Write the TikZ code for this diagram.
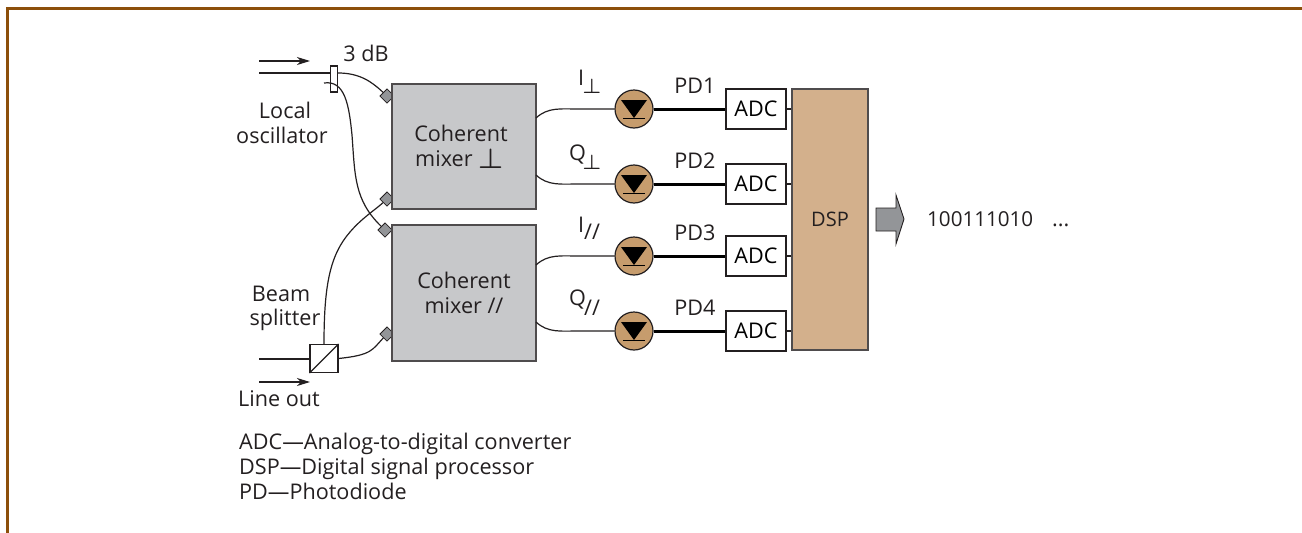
\documentclass[tikz,border=0pt]{standalone}
\usepackage{fontspec}
\setmainfont{Open Sans}
\usetikzlibrary{arrows.meta}
\definecolor{framebrown}{HTML}{8C4F0A}
\definecolor{mixergray}{HTML}{C7C8CA}
\definecolor{dsptan}{HTML}{D3B08C}
\definecolor{pdtan}{HTML}{C69C6D}
\definecolor{inkgray}{HTML}{231F20}
\definecolor{tipgray}{HTML}{939598}
\tikzset{
  wire/.style={draw=inkgray,line width=1.2pt},
  mixerbox/.style={draw=inkgray!80,fill=mixergray,line width=1.6pt,minimum width=144pt,inner sep=0pt},
  adcbox/.style={draw=inkgray,fill=white,line width=1.1pt,minimum width=60pt,minimum height=40pt,inner sep=0pt},
  pdcircle/.style={circle,draw=inkgray,fill=pdtan,line width=1.2pt,minimum size=38pt,inner sep=0pt},
  tipbox/.style={draw=inkgray,fill=tipgray,line width=.8pt,minimum size=10pt,inner sep=0pt,rotate=45},
  flowarrow/.style={wire,-{Stealth[length=13pt,width=8pt,inset=4pt]}},
  lbl/.style={inner sep=0pt,text=inkgray},
  perpsub/.style={lbl,font=\fontsize{21}{24}\selectfont\boldmath}
}
\begin{document}
\begin{tikzpicture}[x=1pt,y=-1pt,font=\fontsize{21.6}{25}\selectfont]
\useasboundingbox (0,0) rectangle (1302,533);
% frame
\draw [framebrown,line width=3pt] (7.5,533) -- (7.5,8.5) -- (1302,8.5);
% connector tips sit under the mixers
\node [tipbox] (tipa) at (387,96) {};
\node [tipbox] (tipb) at (387,199) {};
\node [tipbox] (tipc) at (385,230) {};
\node [tipbox] (tipd) at (387,334) {};
\node [mixerbox,minimum height=125pt] (mixa) at (464,146.5) {};
\node [mixerbox,minimum height=136pt] (mixb) at (464,293) {};
\node [draw=inkgray!80,fill=dsptan,line width=1.4pt,minimum width=76pt,minimum height=261pt,inner sep=0pt] (dsp) at (830,219.5) {};
\node [lbl,font=\fontsize{20}{24}\selectfont] at (830,219) {DSP};
% coupler and splitter
\node [draw=inkgray,fill=white,line width=1.1pt,minimum width=7pt,minimum height=26pt,inner sep=0pt] (coupler) at (334,79) {};
\node [draw=inkgray,fill=white,line width=1.1pt,minimum size=28pt,inner sep=0pt] (split) at (324,358.5) {};
\draw [wire] (split.south west) -- (split.north east);
% free ends
\coordinate (loin) at (259,73);
\coordinate (lohook) at (324,83);
\coordinate (linein) at (259,359);
\draw [wire] (loin) -- (coupler.west |- loin);
\draw [wire] (coupler.east |- loin) .. controls (360,73) and (372,82) .. (tipa);
\draw [wire] (lohook) .. controls (345,80) and (349,105) .. (352,135) .. controls (355,175) and (354,200) .. (tipc);
\draw [wire] (linein) -- (split.west |- linein);
\draw [wire] (split.north) .. controls (324,285) and (330,255) .. (350,232) .. controls (362,218) and (375,210) .. (tipb);
\draw [wire] (split.east) .. controls (372,355) and (372,350) .. (tipd);
% signal arrows
\coordinate (arra) at (259,61);
\coordinate (arrb) at (310,61);
\coordinate (arrc) at (259,382);
\coordinate (arrd) at (310,382);
\draw [flowarrow] (arra) -- (arrb);
\draw [flowarrow] (arrc) -- (arrd);
% mixer outputs
\coordinate (outa) at (536,118);
\coordinate (outb) at (536,175);
\coordinate (outc) at (536,265);
\coordinate (outd) at (536,322);
% detector branches
\foreach \n/\y/\mix/\cy in {1/109/outa/-1,2/184/outb/1,3/256/outc/-1,4/331/outd/1} {
  \node [pdcircle] (pd\n) at (634,\y) {};
  \node [adcbox] (adc\n) at (756,\y) {ADC};
  \draw [wire] (\mix) .. controls (548,\y+2*\cy) and (560,\y) .. (580,\y) -- (pd\n.west);
  \draw [draw=black,line width=3pt] (pd\n.east) -- (adc\n.west);
  \draw [wire] (adc\n.east) -- (dsp.west |- adc\n.east);
  \fill [black] (621,\y-9) -- (647,\y-9) -- (634,\y+9) -- cycle;
  \draw [black,line width=1pt] (623,\y+9.5) -- (645,\y+9.5);
  \node [lbl] at (695,\y-23) {PD\n};
}
% output arrow
\draw [inkgray,fill=tipgray,line width=.9pt] (876,208) -- (896,208) -- (896,195) -- (904,219) -- (896,244) -- (896,231) -- (876,231) -- cycle;
\node [lbl,anchor=west,font=\fontsize{20.6}{24}\selectfont] at (927,219) {100111010};
\node [lbl,anchor=base west] at (1052,226) {...};
% labels
\node [lbl] at (366,53) {3 dB};
\node [lbl] at (285,110) {Local};
\node [lbl] at (282,135) {oscillator};
\node [lbl] at (281,294) {Beam};
\node [lbl] at (285,320) {splitter};
\node [lbl,anchor=west] at (238,399) {Line out};
\node [lbl] at (461,133) {Coherent};
\node [lbl,anchor=west] at (415,159) {mixer};
\node [perpsub] at (491.5,158.5) {\scalebox{1.35}{$\perp$}};
\node [lbl] at (464,280) {Coherent};
\node [lbl] at (464,306) {mixer //};
\node [lbl,anchor=west] at (578,77.5) {I};
\node [perpsub] at (592,86.5) {$\perp$};
\node [lbl,anchor=west] at (569,155) {Q};
\node [perpsub] at (592,162) {$\perp$};
\node [lbl,anchor=west] at (578,224.5) {I};
\node [lbl] at (592,232) {//};
\node [lbl,anchor=west] at (569,299.5) {Q};
\node [lbl] at (592,308) {//};
\node [lbl,anchor=base west] at (239,449) {ADC---Analog-to-digital converter};
\node [lbl,anchor=base west] at (239,474) {DSP---Digital signal processor};
\node [lbl,anchor=base west] at (239,499) {PD---Photodiode};
\end{tikzpicture}
\end{document}
